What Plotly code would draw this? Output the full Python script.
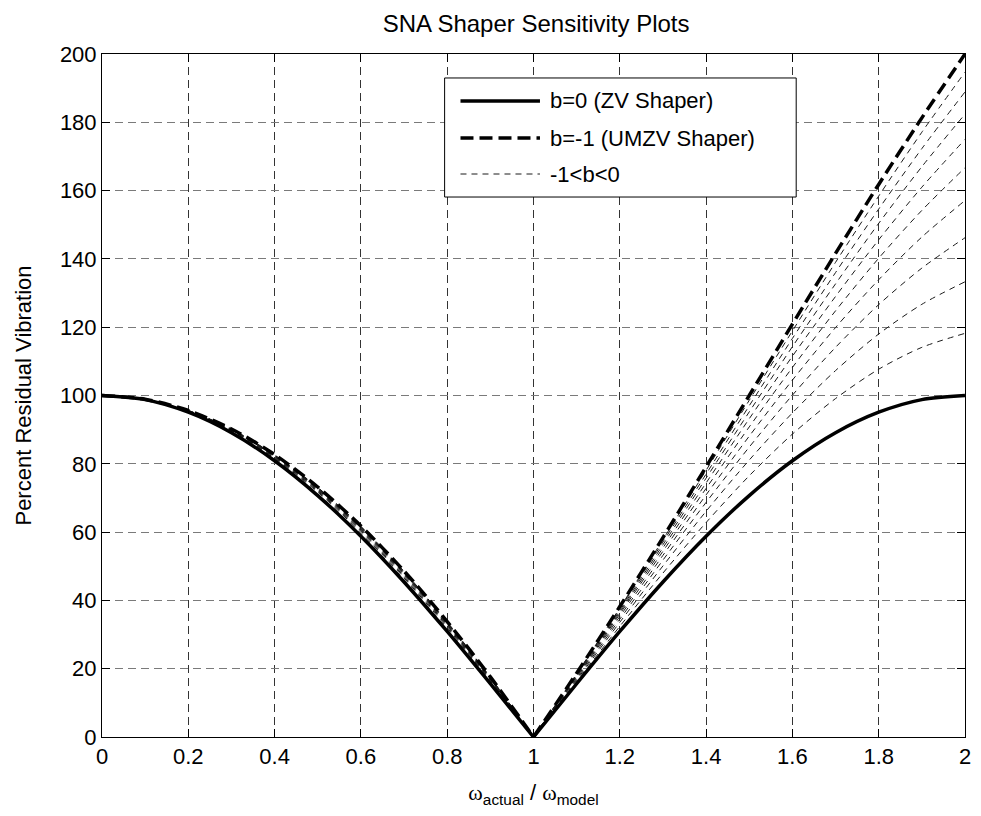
import plotly.graph_objects as go

# ---------------- data ----------------
w_ratio = [0.0, 0.1, 0.2, 0.3, 0.4, 0.5, 0.6, 0.7, 0.8, 0.9, 1.0,
           1.1, 1.2, 1.3, 1.4, 1.5, 1.6, 1.7, 1.8, 1.9, 2.0]

zv_b0 = [100.0, 98.8, 95.1, 89.1, 80.9, 70.7, 58.8, 45.4, 30.9, 15.6, 0.0,
         15.6, 30.9, 45.4, 58.8, 70.7, 80.9, 89.1, 95.1, 98.8, 100.0]

umzv_bm1 = [100.0, 98.9, 95.6, 90.2, 82.7, 73.2, 61.8, 48.6, 33.8, 17.6, 0.0,
            18.7, 38.2, 58.4, 79.1, 100.0, 120.9, 141.6, 161.8, 181.3, 200.0]

b_m01 = [100.0, 98.8, 95.2, 89.3, 81.3, 71.2, 59.4, 46.1, 31.5, 16.0, 0.0,
         16.3, 32.4, 48.0, 62.8, 76.5, 88.7, 99.1, 107.7, 114.1, 118.2]
b_m02 = [100.0, 98.8, 95.3, 89.5, 81.6, 71.7, 59.9, 46.6, 32.0, 16.4, 0.0,
         16.7, 33.6, 50.1, 66.1, 81.1, 94.9, 107.3, 118.0, 126.7, 133.3]
b_m03 = [100.0, 98.8, 95.4, 89.7, 81.8, 72.0, 60.3, 47.0, 32.4, 16.6, 0.0,
         17.1, 34.5, 51.8, 68.7, 84.9, 100.1, 114.1, 126.6, 137.3, 146.2]
b_m04 = [100.0, 98.9, 95.4, 89.8, 82.0, 72.3, 60.6, 47.4, 32.7, 16.8, 0.0,
         17.5, 35.3, 53.2, 70.9, 88.1, 104.5, 119.9, 133.9, 146.4, 157.1]
b_m05 = [100.0, 98.9, 95.5, 89.9, 82.2, 72.5, 60.9, 47.7, 32.9, 17.0, 0.0,
         17.7, 36.0, 54.4, 72.8, 90.8, 108.2, 124.8, 140.2, 154.2, 166.7]
b_m06 = [100.0, 98.9, 95.5, 90.0, 82.3, 72.7, 61.1, 47.9, 33.2, 17.1, 0.0,
         18.0, 36.5, 55.4, 74.4, 93.2, 111.5, 129.0, 145.6, 161.0, 175.0]
b_m07 = [100.0, 98.9, 95.6, 90.0, 82.4, 72.8, 61.3, 48.1, 33.4, 17.3, 0.0,
         18.2, 37.0, 56.3, 75.8, 95.2, 114.3, 132.7, 150.4, 167.0, 182.4]
b_m08 = [100.0, 98.9, 95.6, 90.1, 82.5, 73.0, 61.5, 48.3, 33.5, 17.4, 0.0,
         18.4, 37.5, 57.1, 77.0, 97.0, 116.7, 136.0, 154.6, 172.3, 188.9]
b_m09 = [100.0, 98.9, 95.6, 90.2, 82.6, 73.1, 61.7, 48.5, 33.7, 17.5, 0.0,
         18.5, 37.8, 57.8, 78.1, 98.6, 118.9, 139.0, 158.4, 177.1, 194.7]

intermediate = [b_m01, b_m02, b_m03, b_m04, b_m05, b_m06, b_m07, b_m08, b_m09]

legend_labels = ["b=0 (ZV Shaper)", "b=-1 (UMZV Shaper)", "-1<b<0"]

x_tickvals = [0, 0.2, 0.4, 0.6, 0.8, 1.0, 1.2, 1.4, 1.6, 1.8, 2.0]
x_ticktext = ["0", "0.2", "0.4", "0.6", "0.8", "1", "1.2", "1.4", "1.6", "1.8", "2"]
y_tickvals = [0, 20, 40, 60, 80, 100, 120, 140, 160, 180, 200]

# ---------------- styles ----------------
FONT = "Liberation Sans, Arial, Helvetica, sans-serif"
STY_ZV = dict(color="black", width=3.5)
STY_UM = dict(color="black", width=3.5, dash="13px,6px")
STY_MID = dict(color="#1a1a1a", width=1, dash="6px,5px")

fig = go.Figure()


def add_curve(ys, style, name):
    # the response has a sharp notch at ratio 1: draw each side as a smooth curve
    mid = w_ratio.index(1.0)
    for xs_part, ys_part in ((w_ratio[:mid + 1], ys[:mid + 1]),
                             (w_ratio[mid:], ys[mid:])):
        fig.add_trace(go.Scatter(
            x=xs_part, y=ys_part, mode="lines", name=name, showlegend=False,
            line=dict(shape="spline", smoothing=0.8, **style),
        ))


for ys in intermediate:
    add_curve(ys, STY_MID, legend_labels[2])
add_curve(zv_b0, STY_ZV, legend_labels[0])
add_curve(umzv_bm1, STY_UM, legend_labels[1])

# ---------------- legend box (paper coordinates) ----------------
LEG_X0, LEG_X1, LEG_Y0, LEG_Y1 = 0.397, 0.8044, 0.7906, 0.9649
LEG_LINE_X0, LEG_LINE_X1, LEG_TEXT_X = 0.4154, 0.5075, 0.5167
LEG_ROWS = [0.9312, 0.8770, 0.8243]

shapes = [dict(type="rect", xref="paper", yref="paper",
               x0=LEG_X0, x1=LEG_X1, y0=LEG_Y0, y1=LEG_Y1,
               line=dict(color="black", width=1), fillcolor="white", layer="above")]
annotations = []
for row_y, sty, label in zip(LEG_ROWS, (STY_ZV, STY_UM, STY_MID), legend_labels):
    shapes.append(dict(type="line", xref="paper", yref="paper",
                       x0=LEG_LINE_X0, x1=LEG_LINE_X1, y0=row_y, y1=row_y,
                       line=sty, layer="above"))
    annotations.append(dict(xref="paper", yref="paper", x=LEG_TEXT_X, y=row_y,
                            xanchor="left", yanchor="middle", showarrow=False,
                            text=label.replace("<", "&lt;"),
                            font=dict(family=FONT, size=22, color="black")))

fig.update_layout(
    width=981, height=816,
    margin=dict(l=102, r=10, t=54, b=79),
    paper_bgcolor="white", plot_bgcolor="white",
    font=dict(family=FONT, size=22, color="black"),
    title=dict(text="SNA Shaper Sensitivity Plots", x=0.5465, xanchor="center",
               y=0.971, yanchor="middle", font=dict(size=24)),
    showlegend=False,
    shapes=shapes,
    annotations=annotations,
)

fig.update_xaxes(
    range=[0, 2], tickvals=x_tickvals, ticktext=x_ticktext,
    showline=True, linecolor="black", linewidth=1, mirror="ticks",
    ticks="inside", ticklen=8, tickcolor="black",
    showgrid=True, gridcolor="#333333", gridwidth=1, griddash="8px,5px",
    zeroline=False,
    title=dict(text="<span style='font-family:Liberation Serif'>ω</span><sub>actual</sub>"
                    " / <span style='font-family:Liberation Serif'>ω</span><sub>model</sub>",
               standoff=16, font=dict(size=22)),
)
fig.update_yaxes(
    range=[0, 200], tickvals=y_tickvals,
    showline=True, linecolor="black", linewidth=1, mirror="ticks",
    ticks="inside", ticklen=8, tickcolor="black",
    showgrid=True, gridcolor="#7a7a7a", gridwidth=1, griddash="8px,5px",
    zeroline=False,
    title=dict(text="Percent Residual Vibration", standoff=22, font=dict(size=22)),
)

fig.write_html("out.html")
